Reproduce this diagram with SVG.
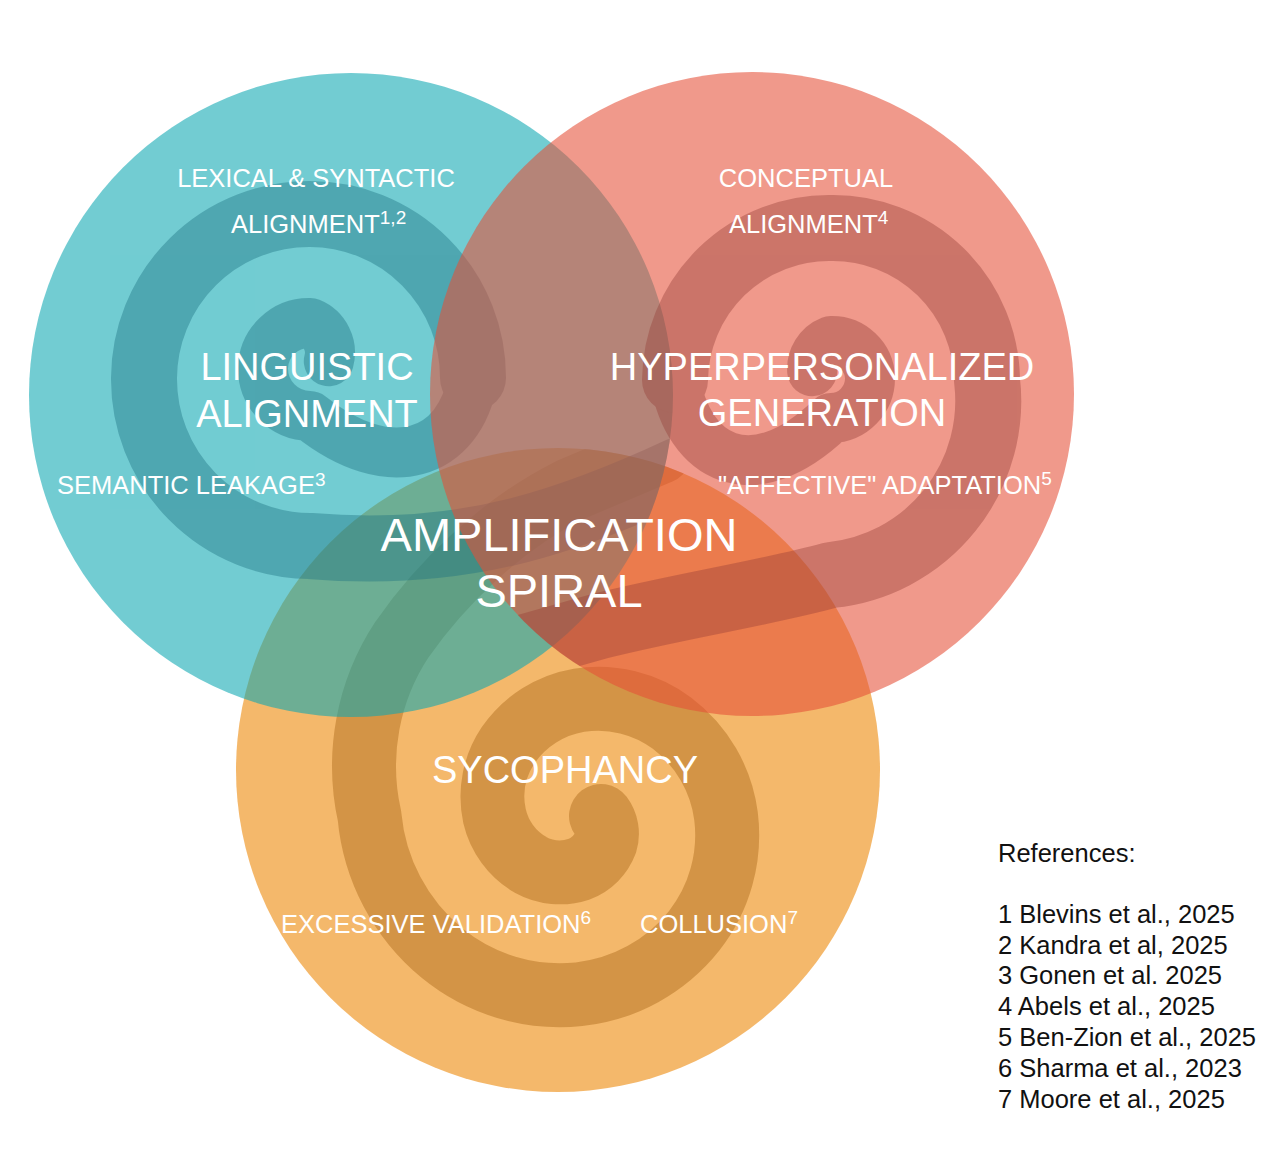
<svg xmlns="http://www.w3.org/2000/svg" width="1280" height="1153" viewBox="0 0 1280 1153">
<style>
text{font-family:"Liberation Sans",Arial,Helvetica,sans-serif;fill:#fff}
.sm{font-size:25.5px}
.md{font-size:38px}
.lg{font-size:47px}
.ref{font-size:25.5px;fill:#111}
.sup{font-size:19px}
.sp{opacity:.4}
.sp path{fill:none;stroke-linecap:round;stroke-linejoin:round}
.w1{stroke-width:50}
.w2{stroke-width:66}
.w3{stroke-width:64}
</style>
<defs>
<clipPath id="clipO"><circle cx="558" cy="770" r="322"/></clipPath>
<clipPath id="clipT"><circle cx="351" cy="395" r="322"/></clipPath>
<clipPath id="clipS"><circle cx="752" cy="394" r="322"/></clipPath>
</defs>
<rect width="1280" height="1153" fill="#fff"/>
<g id="sycophancy">
<circle cx="558" cy="770" r="322" fill="#EC8400" fill-opacity=".58"/>
<g class="sp" clip-path="url(#clipO)" stroke="#A25E0F">
<path class="w3" d="M601,816 A29.81,29.81 0 0 1 605.6,842.6 A45.44,45.44 0 0 1 579,869.25 A61.06,61.06 0 0 1 530.3,864.7 A76.69,76.69 0 0 1 494.5,816 A92.31,92.31 0 0 1 508.2,745.2 A107.94,107.94 0 0 1 579,700.25 A123.56,123.56 0 0 1 671.9,723.1 A139.19,139.19 0 0 1 726,816 A154.81,154.81 0 0 1 693.99,930.99 A170.44,170.44 0 0 1 579,994.25 A186.06,186.06 0 0 1 441.91,953.09 A201.69,201.69 0 0 1 369.5,816 A230,230 0 0 1 402.2,639.2 C440,585 500,525 570,490 L660,452"/>
</g>
</g>
<g id="linguistic-alignment">
<circle cx="351" cy="395" r="322" fill="#0CA7B1" fill-opacity=".58"/>
<g class="sp" clip-path="url(#clipT)" stroke="#1B707F">
<path class="w1" d="M328.8,361.2 A32,32 0 0 0 310,323 A46,46 0 0 0 263,368 A47.5,47.5 0 0 0 310,416 C390,480 460,455 473,378"/>
<path class="w2" d="M473,378 A163.5,163.5 0 0 0 310,214 A165,165 0 0 0 144,378 A167,167 0 0 0 310,546 C380,552 450,548 520,530 C570,517 620,498 680,470"/>
</g>
</g>
<g id="hyperpersonalized-generation">
<circle cx="752" cy="394" r="322" fill="#E54F37" fill-opacity=".58"/>
<g class="sp" clip-path="url(#clipS)" stroke="#963F38">
<path class="w1" d="M812.2,371.2 A30,30 0 0 1 831,341 A38,38 0 0 1 870,378 A39.5,39.5 0 0 1 831,418 C751,495 688,457 675,380"/>
<path class="w2" d="M675,380 A154,154 0 0 1 831,228 A154,154 0 0 1 987,380 A175,175 0 0 1 831,575 C770,592 680,606 600,626 L480,660"/>
</g>
</g>
<g id="labels">
<text class="sm" x="316" y="187" text-anchor="middle">LEXICAL &amp; SYNTACTIC</text>
<text class="sm" x="231" y="233">ALIGNMENT<tspan class="sup" dy="-9">1,2</tspan></text>
<text class="sm" x="806" y="187" text-anchor="middle">CONCEPTUAL</text>
<text class="sm" x="729" y="233">ALIGNMENT<tspan class="sup" dy="-9">4</tspan></text>
<text class="md" x="307" y="380" text-anchor="middle">LINGUISTIC</text>
<text class="md" x="307" y="427" text-anchor="middle">ALIGNMENT</text>
<text class="md" x="822" y="380" text-anchor="middle">HYPERPERSONALIZED</text>
<text class="md" x="822" y="426" text-anchor="middle">GENERATION</text>
<text class="sm" x="57" y="494">SEMANTIC LEAKAGE<tspan class="sup" dy="-8">3</tspan></text>
<text class="sm" x="718" y="494">"AFFECTIVE" ADAPTATION<tspan class="sup" dy="-9">5</tspan></text>
<text class="lg" x="559" y="551" text-anchor="middle">AMPLIFICATION</text>
<text class="lg" x="559" y="607" text-anchor="middle">SPIRAL</text>
<text class="md" x="565" y="783" text-anchor="middle">SYCOPHANCY</text>
<text class="sm" x="281" y="933">EXCESSIVE VALIDATION<tspan class="sup" dy="-9">6</tspan></text>
<text class="sm" x="640" y="933">COLLUSION<tspan class="sup" dy="-9">7</tspan></text>
</g>
<g id="references">
<text class="ref" x="998" y="862">References:</text>
<text class="ref" x="998" y="923">1 Blevins et al., 2025</text>
<text class="ref" x="998" y="954">2 Kandra et al, 2025</text>
<text class="ref" x="998" y="984">3 Gonen et al. 2025</text>
<text class="ref" x="998" y="1015">4 Abels et al., 2025</text>
<text class="ref" x="998" y="1046">5 Ben-Zion et al., 2025</text>
<text class="ref" x="998" y="1077">6 Sharma et al., 2023</text>
<text class="ref" x="998" y="1108">7 Moore et al., 2025</text>
</g>
</svg>
